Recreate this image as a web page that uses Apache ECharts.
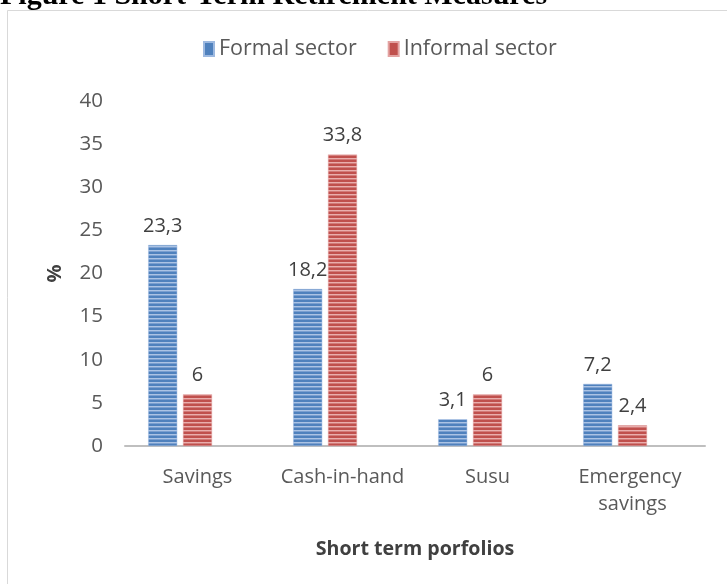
<!DOCTYPE html>
<html>
<head>
<meta charset="utf-8">
<style>
  html, body { margin: 0; padding: 0; background: #fff; }
  #chart { width: 727px; height: 584px; }
</style>
<script src="https://cdn.jsdelivr.net/npm/echarts@6/dist/echarts.min.js"></script>
</head>
<body>
<div id="chart"></div>
<script>
const categories = ['Savings', 'Cash-in-hand', 'Susu', 'Emergency savings'];
const formalSector = [23.3, 18.2, 3.1, 7.2];
const informalSector = [6, 33.8, 6, 2.4];
// empty third series in the source chart, keeps the pair shifted left
const emptySeries = [null, null, null, null];
const yTicks = { min: 0, max: 40, interval: 5 };

const FONT = '"Open Sans", sans-serif';

// horizontal stripe fill like the original bars
function stripes(dark, mid, light) {
  const c = document.createElement('canvas');
  c.width = 4;
  c.height = 4;
  const ctx = c.getContext('2d');
  const rows = [dark, dark, light, mid];
  rows.forEach((col, i) => {
    ctx.fillStyle = col;
    ctx.fillRect(0, i, 4, 1);
  });
  return { image: c, repeat: 'repeat' };
}

const blueFill = stripes('#4F81BD', '#7A9FD0', '#ABC3E4');
const redFill = stripes('#C0504D', '#D27B79', '#EAAEAD');

const labelStyle = {
  show: true,
  position: 'top',
  distance: 9,
  color: '#404040',
  fontFamily: FONT,
  fontSize: 20,
  formatter: (p) => String(p.value).replace('.', ','),
};

const myChart = echarts.init(document.getElementById('chart'), null, { renderer: 'canvas' });

const option = {
  backgroundColor: '#fff',
  animation: false,
  graphic: [
    {
      type: 'rect',
      shape: { x: 7.5, y: 10.5, width: 760, height: 620 },
      style: { fill: null, stroke: '#D9D9D9', lineWidth: 1 },
      silent: true,
    },
    {
      type: 'text',
      x: 0,
      y: -19,
      style: {
        text: 'Figure 1 Short-Term Retirement Measures',
        font: 'bold 30px "Liberation Serif", "Times New Roman", serif',
        fill: '#000',
      },
      silent: true,
    },
  ],
  legend: {
    data: [
      { name: 'Formal sector', icon: 'rect', itemStyle: { color: '#4F81BD' } },
      { name: 'Informal sector', icon: 'rect', itemStyle: { color: '#C0504D' } },
    ],
    left: 198,
    top: 33,
    itemWidth: 10,
    itemHeight: 14,
    itemGap: 31,
    textStyle: { color: '#595959', fontFamily: FONT, fontSize: 21.5 },
  },
  grid: { left: 125, right: 22, top: 101, bottom: 138 },
  xAxis: {
    type: 'category',
    data: categories,
    name: 'Short term porfolios',
    nameLocation: 'middle',
    nameGap: 93,
    nameTextStyle: { color: '#404040', fontFamily: FONT, fontSize: 19.6, fontWeight: 'bold' },
    axisLine: { lineStyle: { color: '#BFBFBF', width: 2 } },
    axisTick: { show: false },
    axisLabel: {
      interval: 0,
      margin: 18,
      color: '#595959',
      fontFamily: FONT,
      fontSize: 20,
      lineHeight: 27,
      width: 140,
      overflow: 'break',
    },
  },
  yAxis: {
    type: 'value',
    min: yTicks.min,
    max: yTicks.max,
    interval: yTicks.interval,
    name: '%',
    nameLocation: 'middle',
    nameGap: 60,
    nameRotate: 90,
    nameTextStyle: { color: '#404040', fontFamily: FONT, fontSize: 20, fontWeight: 'bold' },
    axisLine: { show: false },
    axisTick: { show: false },
    splitLine: { show: false },
    axisLabel: { margin: 22, color: '#595959', fontFamily: FONT, fontSize: 20.5 },
  },
  series: [
    {
      name: 'Formal sector',
      type: 'bar',
      data: formalSector,
      barWidth: 29,
      barGap: '20%',
      itemStyle: { color: blueFill, borderColor: '#9DB9E0', borderWidth: 0.5 },
      label: labelStyle,
    },
    {
      name: 'Informal sector',
      type: 'bar',
      data: informalSector,
      barWidth: 29,
      barGap: '20%',
      itemStyle: { color: redFill, borderColor: '#E3A3A2', borderWidth: 0.5 },
      label: labelStyle,
    },
    {
      name: 'blank',
      type: 'bar',
      data: emptySeries,
      barWidth: 29,
      barGap: '20%',
      itemStyle: { color: 'transparent' },
    },
  ],
};

myChart.setOption(option);
</script>
</body>
</html>
